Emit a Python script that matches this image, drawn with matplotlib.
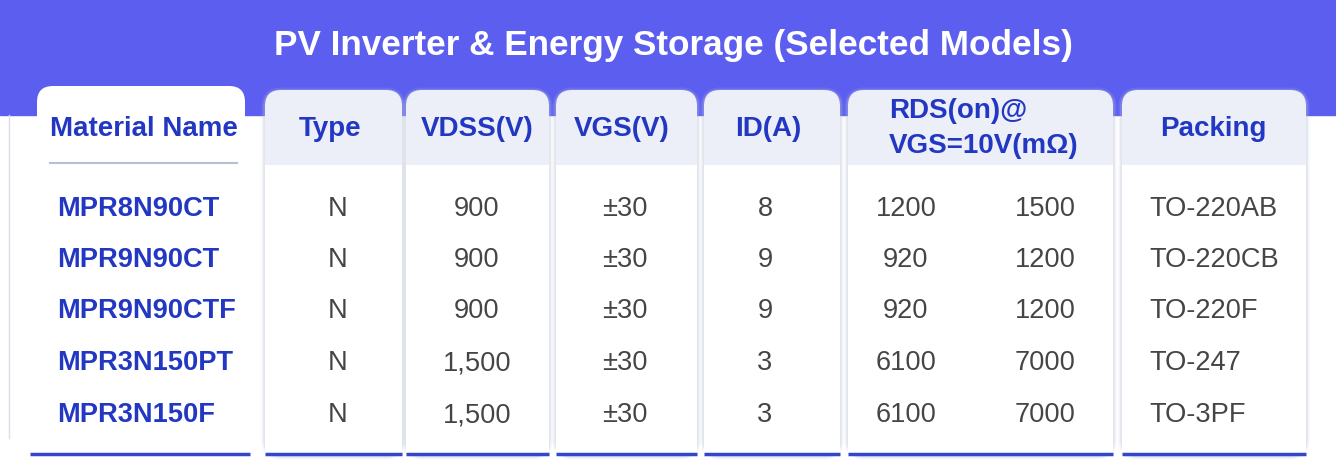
#!/usr/bin/env python3
'''
PV inverter & energy storage MOSFET selection table
'''
import matplotlib.pyplot as plt
from matplotlib.patches import FancyBboxPatch, Rectangle

TITLE = 'PV Inverter & Energy Storage (Selected Models)'
HEADERS = ['Material Name', 'Type', 'VDSS(V)', 'VGS(V)', 'ID(A)',
           'RDS(on)@\nVGS=10V(m\u03a9)', 'Packing']
MATERIALS = ['MPR8N90CT', 'MPR9N90CT', 'MPR9N90CTF', 'MPR3N150PT', 'MPR3N150F']
TYPES = ['N', 'N', 'N', 'N', 'N']
VDSS = ['900', '900', '900', '1,500', '1,500']
VGS = ['\u00b130', '\u00b130', '\u00b130', '\u00b130', '\u00b130']
ID_A = ['8', '9', '9', '3', '3']
RDS_TYP = ['1200', '920', '920', '6100', '6100']
RDS_MAX = ['1500', '1200', '1200', '7000', '7000']
PACKING = ['TO-220AB', 'TO-220CB', 'TO-220F', 'TO-247', 'TO-3PF']

PURPLE = '#5c5ef0'
HEAD_BG = '#eceef8'
BLUE = '#2237c2'
GRAY = '#454545'
LINE = '#3347c8'
FONT = 'Liberation Sans'

W, H = 1336, 467
# panel extents (x0, x1) in pixels
PANELS = [(37, 245), (265, 402), (406, 549), (556, 697),
          (704, 840), (848, 1113), (1122, 1306)]
HEAD_X = [144, 330, 477, 622, 768, None, 1213]
VALUE_X = [338, 477, 625, 765]
ROW_BASE = [216, 267, 318, 370, 422]


def main():
    ''' Draw the table '''
    fig = plt.figure(figsize=(W / 100, H / 100), dpi=100)
    ax = fig.add_axes([0, 0, 1, 1])
    ax.set_xlim(0, W)
    ax.set_ylim(H, 0)
    ax.axis('off')
    fig.set_facecolor('white')

    # purple band + title
    ax.add_patch(Rectangle((0, 0), W, 115, color=PURPLE, zorder=0))
    ax.text(673, 46, TITLE, color='white', fontsize=25.3,
            fontweight='bold', family=FONT, ha='center', va='center')

    # faint card edge on the left
    ax.plot([9, 9], [115, 438], color='#dcdfe7', lw=1, zorder=1)

    for i, (x0, x1) in enumerate(PANELS):
        top = 86 if i == 0 else 90
        bottom = 455
        # soft shadow
        if i > 0:
            for lw, a in [(5, 0.15), (2.5, 0.3)]:
                ax.add_patch(FancyBboxPatch(
                    (x0, top + 1), x1 - x0, bottom - top,
                    boxstyle='round,pad=0,rounding_size=16',
                    fc='none', ec='#b9c2d6', lw=lw, alpha=a, zorder=1))
        face = 'white' if i == 0 else HEAD_BG
        ax.add_patch(FancyBboxPatch(
            (x0, top), x1 - x0, bottom - top,
            boxstyle='round,pad=0,rounding_size=16',
            fc=face, ec='none', zorder=2))
        # white body under header
        ax.add_patch(Rectangle((x0, 165), x1 - x0, bottom - 165,
                               fc='white', ec='none', zorder=3))
        # blue bottom rule
        lx0, lx1 = (30, 250) if i == 0 else (x0, x1)
        ax.plot([lx0, lx1], [bottom - 1, bottom - 1], color=LINE,
                lw=2.5, solid_capstyle='butt', zorder=4)
        if i == 5:
            top_line, bottom_line = HEADERS[i].split('\n')
            ax.text(889, 111, top_line, color=BLUE, fontsize=20,
                    fontweight='bold', family=FONT, ha='left',
                    va='center', zorder=5)
            ax.text(889, 146, bottom_line, color=BLUE, fontsize=20,
                    fontweight='bold', family=FONT, ha='left',
                    va='center', zorder=5)
        else:
            ax.text(HEAD_X[i], 129, HEADERS[i], color=BLUE, fontsize=20,
                    fontweight='bold', family=FONT, ha='center',
                    va='center', zorder=5)

    # shaded underline below "Material Name"
    ax.plot([50, 237], [163, 163], color='#8a93b8', lw=1.5,
            alpha=0.6, zorder=4)

    cols = [TYPES, VDSS, VGS, ID_A]
    for r, y in enumerate(ROW_BASE):
        ax.text(57, y, MATERIALS[r], color=BLUE, fontsize=19.6,
                fontweight='bold', family=FONT, ha='left', va='baseline',
                zorder=5)
        for j, col in enumerate(cols):
            ax.text(VALUE_X[j], y, col[r], color=GRAY, fontsize=19.6,
                    family=FONT, ha='center', va='baseline', zorder=5)
        ax.text(906, y, RDS_TYP[r], color=GRAY, fontsize=19.6,
                family=FONT, ha='center', va='baseline', zorder=5)
        ax.text(1045, y, RDS_MAX[r], color=GRAY, fontsize=19.6,
                family=FONT, ha='center', va='baseline', zorder=5)
        ax.text(1149, y, PACKING[r], color=GRAY, fontsize=19.6,
                family=FONT, ha='left', va='baseline', zorder=5)

    fig.savefig('out.png', dpi=100)


if __name__ == "__main__":
    main()
